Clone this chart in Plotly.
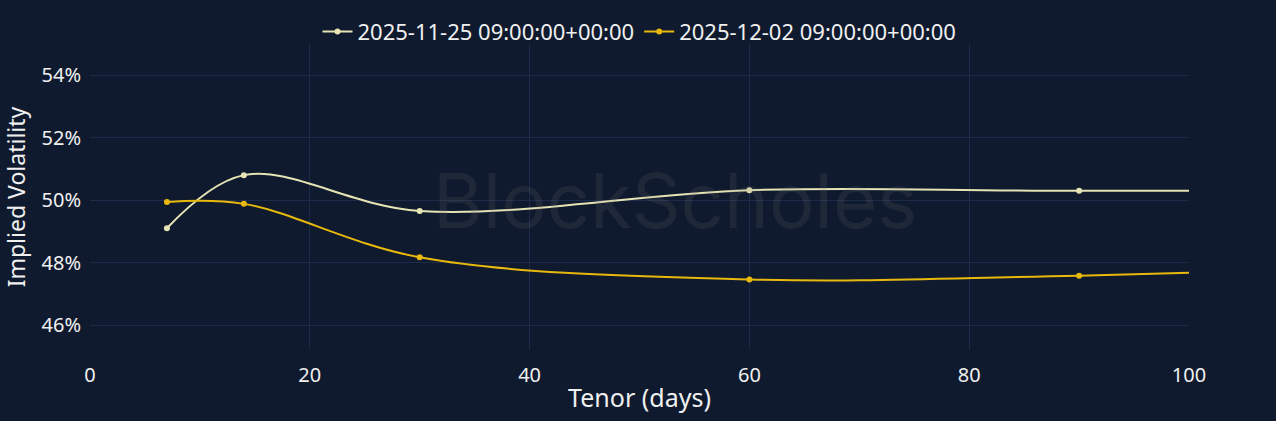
import plotly.graph_objects as go

tenor = [7, 14, 30, 60, 90, 180]
iv_1125 = [49.10, 50.80, 49.65, 50.32, 50.30, 50.30]
iv_1202 = [49.94, 49.88, 48.17, 47.46, 47.58, 48.40]
names = ["2025-11-25 09:00:00+00:00", "2025-12-02 09:00:00+00:00"]
colors = ["#e6e4b4", "#e8b90c"]
ytick_vals = [46, 48, 50, 52, 54]
ytick_text = ["46%", "48%", "50%", "52%", "54%"]

fig = go.Figure()
for y, n, c in [(iv_1125, names[0], colors[0]), (iv_1202, names[1], colors[1])]:
    fig.add_trace(go.Scatter(
        x=tenor, y=y, name=n, mode="lines+markers",
        line=dict(color=c, width=2, shape="spline", smoothing=1),
        marker=dict(color=c, size=6),
    ))

fig.add_annotation(text="BlockScholes", x=0.532, y=0.49, xref="paper", yref="paper",
                   showarrow=False, font=dict(size=76, color="rgba(120,120,120,0.16)",
                                              family="Inter"))

fig.update_layout(
    width=1276, height=421,
    paper_bgcolor="#0f1a2e", plot_bgcolor="#0f1a2e",
    margin=dict(l=90, r=87, t=44, b=71, autoexpand=False),
    font=dict(family="Noto Sans, Open Sans, sans-serif", color="#f0f0f0", size=20),
    legend=dict(orientation="h", x=0.5, xanchor="center", y=1.04, yanchor="middle",
                font=dict(size=22), bgcolor="rgba(0,0,0,0)", itemwidth=30),
    xaxis=dict(range=[0, 100], dtick=20, gridcolor="#1d2b4b", zeroline=False,
               ticks="outside", ticklen=7, tickcolor="rgba(0,0,0,0)",
               title=dict(text="Tenor (days)", font=dict(size=25), standoff=2),
               showline=False),
    yaxis=dict(range=[45.2, 55], tickvals=ytick_vals, ticktext=ytick_text,
               gridcolor="#1d2b4b", zeroline=False,
               ticks="outside", ticklen=4, tickcolor="rgba(0,0,0,0)",
               title=dict(text="Implied Volatility", font=dict(size=23), standoff=16)),
)

fig.write_html("out.html", config={"displayModeBar": False},
               post_script="document.body.style.margin='0';document.body.style.overflow='hidden';document.body.style.background='#0f1a2e';")
